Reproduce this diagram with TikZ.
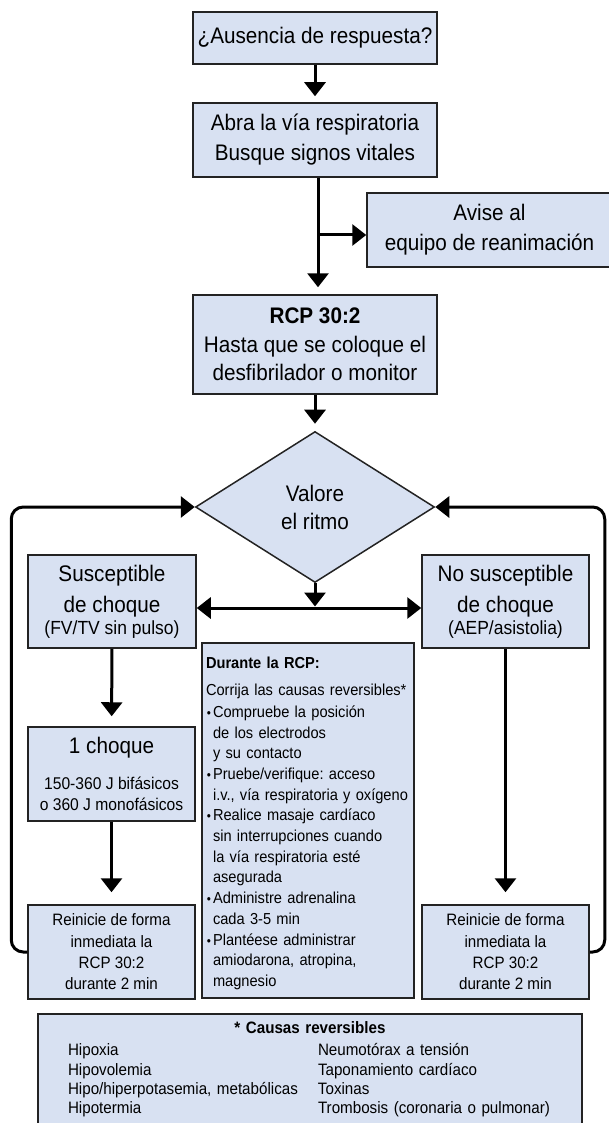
\documentclass[tikz,border=0pt]{standalone}
\usepackage{fontspec}
\setmainfont{Liberation Sans}[FakeStretch=0.92]
\usetikzlibrary{shapes.geometric,arrows.meta,positioning,calc}
\definecolor{boxblue}{RGB}{216,225,242}
\definecolor{edge}{RGB}{35,35,35}
\newcommand{\bulitem}{\hspace*{7pt}\llap{\scalebox{0.8}{•}\hspace{2pt}}}
\newcommand{\bulcont}{\hspace*{7pt}}
\frenchspacing

\begin{document}
\begin{tikzpicture}[x=1pt, y=-1pt,
  box/.style={rectangle, draw=edge, line width=1.5pt, fill=boxblue, align=center, inner sep=0pt},
  big/.style={font=\fontsize{22.5}{30}\selectfont},
  small/.style={font=\fontsize{16.5}{21.3}\selectfont},
  arr/.style={line width=3pt, -{Triangle[width=21pt,length=14pt]}},
  darr/.style={line width=3pt, {Triangle[width=21pt,length=14pt]}-{Triangle[width=21pt,length=14pt]}}]
\useasboundingbox (0,0) rectangle (609,1123);
\clip (0,0) rectangle (609,1123);

\node[box, big, minimum width=244pt, minimum height=52pt] (ask) at (315,38) {¿Ausencia de respuesta?};
\node[box, big, minimum width=244pt, minimum height=74pt] (airway) at (315,140) {Abra la vía respiratoria\\Busque signos vitales};
\node[box, big, minimum width=245pt, minimum height=74pt] (team) at (489.5,230) {Avise al\\equipo de reanimación};
\node[box, minimum width=244pt, minimum height=99pt, font=\fontsize{22.5}{28.5}\selectfont] (cpr) at (315,344.5) {\textbf{RCP 30:2}\\Hasta que se coloque el\\desfibrilador o monitor};
\node[diamond, draw=edge, line width=1.5pt, fill=boxblue, align=center, inner sep=0pt, minimum width=239pt, minimum height=151pt, font=\fontsize{22.5}{28}\selectfont] (rhythm) at (315,507) {Valore\\el ritmo};
\node[box, minimum width=168pt, minimum height=93pt, font=\fontsize{22.5}{31}\selectfont] (shock) at (112,601.5) {Susceptible\\de choque\\[-9pt]{\fontsize{19}{22}\selectfont(FV/TV sin pulso)}};
\node[box, minimum width=167pt, minimum height=93pt, font=\fontsize{22.5}{31}\selectfont] (noshock) at (505.5,601.5) {No susceptible\\de choque\\[-9pt]{\fontsize{19}{22}\selectfont(AEP/asistolia)}};
\node[box, minimum width=167pt, minimum height=94pt, font=\fontsize{17}{21}\selectfont] (oneshock) at (111.5,774) {{\fontsize{22.5}{21}\selectfont 1 choque}\\[15pt]150-360 J bifásicos\\o 360 J monofásicos};
\node[box, small, minimum width=167pt, minimum height=94pt] (cprL) at (111.5,952) {Reinicie de forma\\inmediata la\\RCP 30:2\\durante 2 min};
\node[box, small, minimum width=167pt, minimum height=94pt] (cprR) at (505.5,952) {Reinicie de forma\\inmediata la\\RCP 30:2\\durante 2 min};
\node[box, align=left, text width=204pt, inner xsep=4pt, minimum height=355pt, font=\fontsize{15.9}{20.7}\selectfont] (during) at (308,820.5) {\begin{tabular}{@{}l@{}}
\rule{0pt}{20pt}\textbf{Durante la RCP:}\\[6.3pt]
Corrija las causas reversibles*\\[1.3pt]
\bulitem Compruebe la posición\\
\bulcont de los electrodos\\
\bulcont y su contacto\\
\bulitem Pruebe/verifique: acceso\\
\bulcont i.v., vía respiratoria y oxígeno\\
\bulitem Realice masaje cardíaco\\
\bulcont sin interrupciones cuando\\
\bulcont la vía respiratoria esté\\
\bulcont asegurada\\
\bulitem Administre adrenalina\\
\bulcont cada 3-5 min\\
\bulitem Plantéese administrar\\
\bulcont amiodarona, atropina,\\
\bulcont magnesio
\end{tabular}};
\node[box, anchor=north, text width=484pt, inner xsep=30pt, inner ysep=8.2pt, font=\fontsize{16.5}{19.3}\selectfont] (causes) at (310,1013) {\textbf{* Causas reversibles}\\[2.7pt]
\makebox[484pt][l]{\makebox[250pt][l]{Hipoxia}Neumotórax a tensión}\\
\makebox[484pt][l]{\makebox[250pt][l]{Hipovolemia}Taponamiento cardíaco}\\
\makebox[484pt][l]{\makebox[250pt][l]{Hipo/hiperpotasemia, metabólicas}Toxinas}\\
\makebox[484pt][l]{\makebox[250pt][l]{Hipotermia}Trombosis (coronaria o pulmonar)}\rule[-10pt]{0pt}{10pt}};

\coordinate (split) at (318,235);
\coordinate (fork) at (315,608);
\draw[arr, shorten >=6pt] (ask) -- (airway);
\draw[arr, shorten >=7pt] (airway.south -| split) -- (cpr.north -| split);
\draw[arr] (split) -- (split -| team.west);
\draw[arr, shorten >=7pt] (cpr) -- (rhythm);
\draw[arr, shorten >=1.5pt] (rhythm.south) -- (fork);
\draw[darr] (fork -| shock.east) -- (fork -| noshock.west);
\draw[arr, shorten >=10pt] (shock) -- (oneshock);
\draw[arr, shorten >=12pt] (oneshock) -- (cprL);
\draw[arr, shorten >=12pt] (noshock) -- (cprR);
\draw[arr, rounded corners=12pt] (cprL.west) -- ++(-16,0) |- (rhythm.west);
\draw[arr, rounded corners=12pt] (cprR.east) -- ++(15,0) |- (rhythm.east);
\end{tikzpicture}
\end{document}
